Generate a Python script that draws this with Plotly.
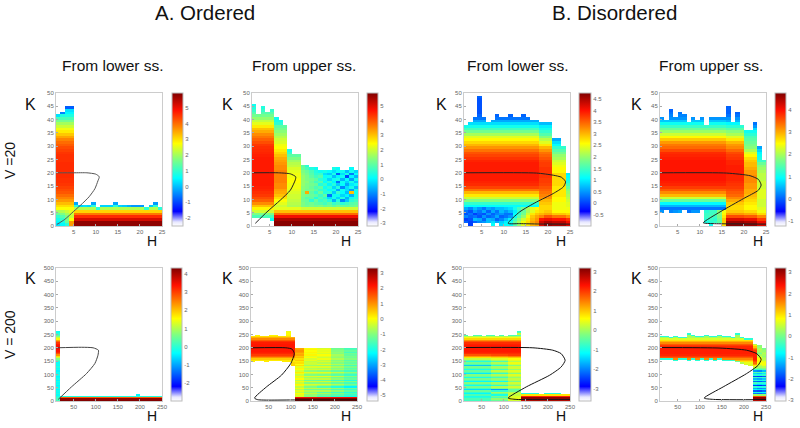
import plotly.graph_objects as go

W, H = 800, 428
COLORSCALE = [[0, '#ffffff'], [.03, '#e8e8ff'], [.06, '#9090ff'], [.11, '#0000ff'], [.36, '#00ffff'],
              [.5, '#80ff80'], [.62, '#ffff00'], [.75, '#ff8000'], [.87, '#ff1000'], [1, '#800000']]

h_edges_top = list(range(1, 26))
k_edges_top = list(range(0, 51))
h_edges_bot = list(range(10, 260, 10))
k_edges_bot = list(range(0, 505, 5))

# ---------- Panel A1: V=20, ordered, from lower ss.
a1_left = [2.0, 2.0, 2.0, 2.0, 2.0, 2.1, 2.7, 3.0, 3.3, 3.6, 3.8, 4.0, 4.2, 4.3, 4.4, 4.5, 4.55, 4.55, 4.6, 4.6, 4.6, 4.6, 4.6,
           4.6, 4.55, 4.55, 4.55, 4.5, 4.4, 4.3, 4.15, 4.0, 3.8, 3.5, 3.2, 2.9, 2.6, 2.3, 2.0, 1.6, 1.2, 0.8, 0.5, 0.3, 0.0]
a1_low = [[0.3, 0.5, 0.9, 3.6], [0.5, 0.8, 1.5, 3.6], [0.7, 1.0, 1.6, 2.7], [1.0, 1.3, 1.7, 2.3], [1.5, 1.7, 2.0, 2.3], [2.0, 2.1, 2.3, 2.5]]
a1_right = [5.8, 5.8, 5.2, 4.6, 3.9, 3.1, 2.1, 0.9, 0.2]
a1_tops = [42, 43, 45, 45, 9, 8, 8, 8, 9, 7, 8, 8, 8, 9, 8, 8, 8, 8, 8, 8, 7, 8, 9, 7]
a1_topv = [0.3, -0.5, -0.8, -0.8, -0.2, 0.2, 0.3, 0.2, -0.2, 0.9, 0.2, 0.2, 0.2, -0.2, 0.2, 0.1, -0.1, -0.3, -0.3, -0.3, 0.9, 0.1, -0.3, 0.9]
a1_ticks = [-2, -1, 0, 1, 2, 3, 4, 5]
a1_range = [-2.5, 5.93]
a1_curve_h = [1.2, 3, 5, 7, 8.5, 9.8, 10.5, 10.8, 10, 8, 5, 1]
a1_curve_k = [0.6, 2.5, 5.5, 8.5, 11, 14, 17, 18.5, 19.5, 20, 20, 20]

# ---------- Panel A2: V=20, ordered, from upper ss.
a2_left = [0.0, 0.0, 0.4, 0.8, 1.3, 2.0, 2.5, 3.0, 3.5, 3.9, 4.1, 4.3, 4.4, 4.5, 4.55, 4.6, 4.6, 4.6, 4.6, 4.6, 4.6, 4.6, 4.6,
           4.6, 4.6, 4.6, 4.55, 4.5, 4.45, 4.4, 4.3, 4.1, 3.9, 3.7, 3.5, 3.2, 3.0, 2.6, 2.2, 1.9, 1.5, 1.2, 0.9, 0.6, 0.4, 0.2]
a2_mid = [5.8, 5.8, 5.5, 4.8, 3.8, 3.0, 2.2, 2.0, 2.2, 2.4, 2.7, 3.0, 3.2, 3.3, 3.5, 3.5, 3.6, 3.6, 3.6, 3.6, 3.6, 3.5, 3.5, 3.4,
          3.3, 3.2, 3.0, 2.8, 2.6, 2.4, 2.3, 2.1, 2.0, 1.8, 1.6, 1.4, 1.2, 1.0, 0.5, 0.3, 0.2]
a2_next = [5.8, 5.8, 5.5, 4.8, 3.8, 3.0, 2.2, 1.7, 1.8, 1.9, 2.0, 2.0, 2.1, 2.2, 2.3, 2.3, 2.4, 2.4, 2.3, 2.3, 2.2, 2.1, 1.9, 1.8, 1.6, 1.3, 1.0, 0.6, 0.3]
a2_far_low = [5.8, 5.8, 5.5, 4.8, 3.8, 3.0, 2.0]
a2_noise = [
    [1.3, 1.2, 1.3, 1.2, 1.3, 1.1, 1.2, 1.0, 1.2, 1.1, 1.0, 1.1, 1.2],
    [1.3, 1.1, 1.2, 1.0, 0.9, 0.7, 1.0, 0.6, 0.8, 0.5, 0.7, 0.9, 1.0],
    [1.2, 1.1, 0.5, 1.1, 0.6, 0.8, 0.4, -0.6, 0.4, -1.0, -0.4, 0.5, 0.7],
    [1.2, 0.9, 1.0, 0.4, 0.9, 0.5, -0.2, 0.3, -0.3, 0.4, -0.6, 0.2, 0.4],
    [1.3, 1.2, 1.1, 1.0, 0.6, 1.0, -1.2, 0.2, 0.2, -0.3, 0.0, -0.6, 0.3],
    [1.3, 3.2, 1.0, 0.6, 1.1, 0.4, 0.5, -0.4, 0.6, 0.1, -0.5, 3.0, 0.2],
    [1.4, 1.2, 1.2, 1.0, 0.6, 0.5, 0.1, 0.3, -0.7, 0.2, -0.2, -0.8, 0.3],
    [1.4, 1.3, 1.1, 0.8, 1.0, 0.2, 0.5, -0.3, 0.4, -1.0, -0.2, 0.3, -0.5],
    [1.5, 1.3, 1.2, 1.1, 0.4, 0.6, 0.0, 0.4, -0.4, 0.1, -0.7, -0.1, 0.2],
    [1.5, 1.4, 1.1, 0.7, 0.9, 0.1, 0.5, 0.0, -1.2, 0.2, -0.3, 0.3, -0.4],
    [1.5, 1.3, 1.2, 1.0, 0.5, 0.3, -0.3, 0.2, 0.3, -0.6, 0.1, -0.8, 0.2],
    [1.5, 1.3, 1.0, 0.7, 0.9, 0.1, 0.2, -0.5, 0.0, 0.2, -1.6, 0.0, -0.6],
    [1.4, 1.2, 0.9, 0.5, 0.6, -0.2, -0.4, 0.3, -1.4, -0.2, 0.3, -1.1, 0.1],
    [1.3, 1.1, 0.8, 0.4, 0.2, 0.3, 0.1, -0.2, 0.1, 0.2, -0.5, 0.2, -0.3],
    [1.1, 0.8, 0.4, 0.2, 0.3, 0.1, 0.2, 0.3, 0.1, 0.0, 0.2, 0.1, 0.2],
    [1.0, 0.5, 0.3, 0.2, 0.2, 0.3, 0.2, 0.2, 0.2, 0.2, 0.1, 0.0, 0.0],
]
a2_tops = [46, 42, 45, 43, 44, 41, 40, 38, 29, 27, 27, 23, 26, 22, 22, 21, 21, 21, 22, 22, 21, 21, 22, 21]
a2_bots = [3, 3, 3, 3, 2, 0, 0, 0, 0, 0, 0, 0, 0, 0, 0, 0, 0, 0, 0, 0, 0, 0, 0, 0]
a2_ticks = [-3, -2, -1, 0, 1, 2, 3, 4, 5]
a2_range = [-3.2, 5.87]
a2_curve_h = [1.75, 4.4, 7.4, 9.7, 10.8, 10.9, 9.7, 7, 1]
a2_curve_k = [1, 5.3, 9.7, 13.5, 17.3, 18.5, 19.6, 20, 20]

# ---------- Panel B1: V=20, disordered, from lower ss.
b1_main = [-0.4, -0.3, -0.2, -0.1, 0.1, 0.4, 0.8, 1.1, 1.4, 1.9, 2.3, 2.7, 3.0, 3.4, 3.7, 3.85, 3.9, 3.95, 3.95, 3.95, 3.95, 3.95, 3.95, 3.95, 3.9,
           3.8, 3.7, 3.6, 3.4, 3.2, 3.0, 2.8, 2.6, 2.4, 2.1, 1.8, 1.5, 1.2, 0.9, 0.6, 0.3, 0.2, 0.1, 0.1, 0.1, 0.1, 0.1, 0.1, 0.2]
b1_r18 = [4.6, 4.5, 4.1, 3.6, 3.1, 2.9, 2.8, 2.8, 2.9, 3.0, 3.2, 3.3, 3.4, 3.5, 3.6, 3.7, 3.75, 3.75, 3.8, 3.8, 3.8, 3.8, 3.75, 3.75, 3.7, 3.6,
          3.5, 3.4, 3.2, 3.0, 2.7, 2.4, 2.2, 1.9, 1.6, 1.4, 1.2, 1.0, 0.7, 0.3]
b1_r21 = [4.5, 4.4, 4.0, 3.4, 2.9, 2.6, 2.5, 2.5, 2.5, 2.6, 2.6, 2.7, 2.7, 2.7, 2.7, 2.8, 2.8, 2.8, 2.8, 2.8, 2.6, 2.6, 2.5, 2.4, 2.3, 2.1, 2.0,
          1.8, 1.6, 1.4, 1.1, 0.9, 0.6]
b1_r24 = [4.2, 4.1, 3.8, 3.2, 2.8, 2.6, 2.5, 2.4, 2.4, 2.3, 2.2, 2.1, 2.0, 1.9, 1.7, 1.5, 1.3, 1.2, 1.1, 1.0]
b1_low = [
    [None, 0.0, None, None, None, None, 1.1, None, 0.9, 1.1, 1.1, 1.6, 2.0, 2.4, 2.7, 3.0, 3.1, 4.2],
    [0.2, 0.0, 0.2, 0.4, 0.5, 0.7, 0.9, 0.6, 0.8, 1.0, 1.2, 1.7, 2.1, 2.5, 2.8, 3.1, 3.3, 4.3],
    [0.0, 0.1, 0.7, 0.6, 0.2, 0.7, 0.6, 0.2, 0.4, 0.7, 1.0, 1.5, 1.9, 2.3, 2.7, 3.0, 3.2, 4.0],
    [0.4, 0.2, 0.3, 0.1, 0.5, 0.2, 0.3, 0.6, 0.2, 0.3, 0.5, 1.1, 1.6, 2.0, 2.5, 2.9, 3.1, 3.3],
    [0.1, 0.3, 0.0, 0.2, 0.1, 0.5, 0.2, 0.4, 0.5, 0.3, 0.3, 1.1, 1.4, 1.8, 2.3, 2.7, 2.9, 3.0],
    [0.3, 0.1, 0.5, 0.3, 0.6, 0.2, 0.6, 0.3, 0.7, 0.5, 0.7, 1.0, 1.4, 1.7, 2.1, 2.4, 2.7, 2.8],
    [0.6, 0.4, 0.7, 0.5, 0.3, 0.6, 0.5, 0.7, 0.7, 0.8, 0.9, 1.2, 1.5, 1.8, 2.1, 2.4, 2.6, 2.8],
]
b1_tops = [38, 39, 41, 49, 41, 39, 40, 42, 41, 41, 42, 41, 41, 42, 41, 40, 40, 39, 39, 39, 33, 33, 30, 20]
b1_ticks = [-0.5, 0, 0.5, 1, 1.5, 2, 2.5, 3, 3.5, 4, 4.5]
b1_ticktext = ['-0.5', '0', '0.5', '1', '1.5', '2', '2.5', '3', '3.5', '4', '4.5']
b1_range = [-0.99, 4.76]
b1_curve_h = [25, 18, 13.6, 11, 13.6, 17.4, 21.2, 23.5, 24, 23.1, 21.2, 17.4, 1]
b1_curve_k = [0.7, 0.75, 0.9, 1, 5.3, 9, 12.2, 14.7, 16.6, 18.3, 19.1, 19.9, 20]

# ---------- Panel B2: V=20, disordered, from upper ss.
b2_main = [0, 0, 0, 0, 0, 0.2, 0.1, 0.5, 0.9, 1.6, 2.2, 2.9, 3.2, 3.5, 3.7, 3.85, 3.9, 3.95, 3.95, 3.95, 3.95, 3.95, 3.95, 3.95, 3.95, 3.9, 3.85,
           3.8, 3.6, 3.4, 3.3, 3.1, 2.8, 2.5, 2.2, 1.9, 1.6, 1.3, 1.0, 0.6, 0.3, 0.2, 0.1, 0.0, 0.0]
b2_r16 = [4.7, 4.6, 4.2, 3.6, 3.1, 2.8, 2.7, 2.7, 2.8, 3.0, 3.2, 3.4, 3.5, 3.6, 3.7, 3.75, 3.8, 3.85, 3.85, 3.9, 3.9, 3.9, 3.9, 3.85, 3.85, 3.75, 3.7,
          3.6, 3.4, 3.2, 3.1, 2.9, 2.6, 2.3, 2.0, 1.8, 1.5, 1.2, 0.9, 0.5, 0.3, 0.1, 0.0, 0.0, 0.0]
b2_r20 = [4.6, 4.5, 4.1, 3.5, 3.0, 2.7, 2.5, 2.5, 2.6, 2.7, 2.8, 2.9, 3.0, 3.0, 3.1, 3.1, 3.2, 3.2, 3.2, 3.1, 3.1, 3.0, 2.9, 2.9, 2.8, 2.7, 2.5,
          2.3, 2.0, 1.8, 1.7, 1.6, 1.5, 1.4, 1.2, 1.0, 0.7, 0.3, 0.1]
b2_r23 = [4.2, 4.1, 3.7, 3.2, 2.7, 2.4, 2.3, 2.2, 2.2, 2.2, 2.3, 2.3, 2.3, 2.3, 2.2, 2.2, 2.2, 2.1, 2.1, 2.1, 2.0, 1.9, 1.8, 1.6, 1.3, 1.1, 1.0, 0.9, 0.7, 0.4]
b2_low = [[None, None, None, None, None, None, None, None, None, None, None, 1.0, None, None, 2.7],
          [None, None, None, None, None, None, None, None, None, None, 1.1, 1.2, 1.3, 1.5, 2.8],
          [None, None, None, None, None, None, None, None, None, None, 1.2, 1.3, 1.2, 1.6, 2.8],
          [None, None, None, None, None, None, None, None, None, None, 1.3, 1.4, 1.3, 1.7, 2.6],
          [None, None, None, None, None, None, None, None, None, None, 1.3, 1.3, 1.4, 1.8, 2.5],
          [0.3, None, 0.2, 0.3, 0.4, None, 0.1, 0.3, 0.3, None, 1.2, 1.3, 1.3, 1.8, 2.4]]
b2_tops = [41, 40, 44, 41, 43, 42, 39, 41, 40, 41, 38, 41, 41, 41, 41, 45, 39, 43, 38, 36, 36, 39, 30, 25]
b2_ticks = [-1, 0, 1, 2, 3, 4]
b2_range = [-1.23, 4.75]
b2_curve_h = [25, 17, 13, 10.8, 14.6, 19.9, 23.3, 23.9, 23.3, 21.4, 16.1, 1]
b2_curve_k = [0.7, 0.8, 0.9, 1.2, 5.3, 10.3, 13.5, 15.4, 17.5, 18.9, 19.9, 20]

# ---------- Panel A3: V=200, ordered, from lower ss.
a3_col0 = [0.2, 0.2, 0.1, -0.1, -0.3, -0.1, -0.3, -0.2, -0.4, -0.1, -0.3, -0.4, -0.2, -0.3, -0.1, -0.4, -0.2, -0.3, -0.4, -0.1, -0.3, -0.2,
           -0.4, -0.2, -0.3, -0.1, -0.3, -0.2, -0.3, -0.1, 0.3, 0.7, 1.2, 1.8, 2.4, 2.9, 3.2, 3.35, 3.4, 3.4, 3.4, 3.35, 3.3, 3.1, 2.7, 2.2, 1.6, 1.1,
           0.7, 0.3, 0.0, -0.2, -0.3]
a3_rest = [4.3, 4.2, 2.8, -0.1, -0.4]
a3_tops = [265, 20, 20, 20, 20, 20, 20, 20, 20, 20, 20, 20, 20, 20, 20, 20, 20, 20, 25, 20, 20, 20, 20, 20]
a3_ticks = [-2, -1, 0, 1, 2, 3, 4]
a3_range = [-2.98, 4.33]
a3_curve_h = [15, 45, 79, 98, 105, 106, 94, 68, 10]
a3_curve_k = [6, 53, 103, 141, 172, 191, 200, 202, 200]

# ---------- Panel A4: V=200, ordered, from upper ss.
a4_left = [0.4, 0.4, 0.4, 0.2, 0.2, 0.5, 1.0, 1.5, 1.8, 2.0, 2.1, 2.15, 2.15, 2.15, 2.15, 2.15, 2.15, 2.1, 1.9, 1.5, 1.1, 0.7, 0.3, 0.1, 0.0, 0.0, -0.1]
a4_tops = [245, 250, 245, 245, 250, 250, 245, 245, 265, 240]
a4_bots = [145, 150, 150, 145, 150, 150, 150, 145, 145, 130]
a4_g1 = [3.2, 3.2, 2.3, -0.4, -0.2, 0.0, -0.5, -0.2, -0.6, -0.1, -0.5, -0.1, 0.1, -0.4, -0.1, -0.6, 0.0, -0.3, 0.1, -0.4, -0.1, 0.2, -0.3, 0.0, 0.1, -0.2,
         0.3, 0.0, 0.3, 0.2, 0.5, 0.3, 0.6, 0.5, 0.8, 0.7, 0.9, 1.0, 0.9, 0.8]
a4_g2 = [3.2, 3.2, 2.3, -1.1, -0.9, -0.5, -1.0, -0.6, -1.2, -0.5, -1.1, -0.6, -0.3, -1.0, -0.4, -1.2, -0.5, -0.8, -0.3, -1.0, -0.6, -0.2, -0.9, -0.4, -0.6, -0.3,
         -0.8, -0.4, -0.4, -0.5, -0.2, -0.3, 0.0, -0.2, 0.1, -0.1, 0.1, 0.0, 0.1, 0.0]
a4_g3 = [3.2, 3.2, 2.3, -1.6, -1.2, -0.7, -1.4, -0.6, -1.2, -0.5, -1.5, -0.8, -0.3, -1.0, -0.4, -1.3, -0.5, -0.9, -0.2, -1.1, -0.6, -0.2, -1.0, -0.4, -0.7, -0.3,
         -0.9, -0.2, -0.6, -0.3, -0.5, -0.1, -0.4, -0.2, 0.0, -0.3, -0.1, -0.2, -0.1, -0.3]
a4_g4 = [3.2, 3.2, 2.3, -1.9, -1.4, -1.0, -1.7, -0.9, -1.5, -0.8, -1.9, -1.1, -0.6, -1.3, -0.7, -1.6, -0.9, -1.2, -0.5, -1.4, -1.0, -0.5, -1.3, -0.8, -1.0, -0.7,
         -1.2, -0.6, -1.0, -0.8, -1.0, -0.6, -0.9, -0.8, -0.7, -1.0, -0.9, -1.0, -1.1, -1.2]
a4_g5 = [3.2, 3.2, 2.3, -2.1, -1.7, -1.4, -1.9, -1.3, -1.7, -1.2, -2.3, -1.5, -1.1, -1.6, -1.0, -1.9, -1.3, -1.5, -1.0, -1.7, -1.3, -0.9, -1.6, -1.2, -1.4, -1.1,
         -1.6, -1.0, -1.3, -1.1, -1.4, -1.0, -1.2, -1.1, -1.3, -1.2, -1.6, -1.3, -1.5, -1.6]
a4_ticks = [-5, -4, -3, -2, -1, 0, 1, 2, 3]
a4_range = [-5.37, 3.33]
a4_curve_h = [250, 112, 25, 18, 45, 79, 100, 108, 103, 89, 10]
a4_curve_k = [4, 4, 5, 11, 53, 97, 141, 178, 195, 200, 200]

# ---------- Panel B3: V=200, disordered, from lower ss.
b3_g1 = [-0.7, -0.6, -0.9, -1.0, -0.6, -1.2, -0.8, -0.4, -1.4, -0.7, -0.3, -1.1, -0.6, -0.2, -1.2, -0.6, -0.3, -1.0, -0.4, -0.2, -1.3, -0.7, -0.4, -1.0, -0.5,
         -0.3, -1.5, -0.6, -0.3, -0.9, -0.4, 0.2, 0.8, 1.3, 1.8, 2.1, 2.2, 2.25, 2.25, 2.25, 2.25, 2.25, 2.2, 2.1, 1.8, 1.4, 0.9, 0.5, 0.1, -0.6]
b3_g2 = [-0.4, -0.1, -0.6, -0.3, -1.0, -0.3, 0.0, -0.8, -1.8, -0.3, 0.1, -0.9, -0.2, 0.0, -1.1, -0.3, -0.1, -0.7, -0.2, 0.1, -0.8, -0.2, 0.2, -0.7, -0.1,
         0.0, -0.9, -0.2, 0.1, -0.6, 0.0, 0.4, 0.9, 1.4, 1.9, 2.1, 2.2, 2.25, 2.25, 2.25, 2.25, 2.25, 2.2, 2.1, 1.8, 1.4, 0.9, 0.5, 0.1, -0.6]
b3_g3 = [0.3, 0.5, 0.4, 0.4, 0.2, 0.3, 0.1, -0.4, -0.5, 0.0, 0.3, -0.2, 0.1, 0.3, -0.3, 0.1, 0.2, -0.1, 0.2, 0.4, -0.2, 0.2, 0.4, -0.1, 0.3,
         0.3, -0.2, 0.3, 0.5, 0.1, 0.4, 0.6, 1.0, 1.5, 2.0, 2.1, 2.2, 2.25, 2.25, 2.25, 2.25, 2.25, 2.2, 2.1, 1.8, 1.4, 0.9, 0.5, 0.1, -0.6]
b3_right = [2.6, 3.1, 3.1, 2.2, 0.8, -0.9]
b3_tops = [250, 245, 250, 250, 245, 250, 250, 245, 250, 245, 250, 250, 265, 30, 30, 30, 30, 25, 30, 30, 30, 30, 25, 25]
b3_ticks = [-3, -2, -1, 0, 1, 2, 3]
b3_range = [-3.63, 3.2]
b3_curve_h = [250, 128, 110, 151, 204, 230, 239, 230, 211, 166, 10]
b3_curve_k = [5, 6, 11, 53, 97, 128, 153, 178, 191, 200, 201]

# ---------- Panel B4: V=200, disordered, from upper ss.
b4_band = [0.6, 0.6, 0.7, 1.0, 1.3, 1.6, 1.9, 2.1, 2.25, 2.3, 2.3, 2.3, 2.3, 2.3, 2.25, 2.1, 1.9, 1.6, 1.3, 1.0, 0.6, 0.3, 0.3, 0.3, 0.3, 0.3, 0.3, 0.3]
b4_tops = [245, 245, 240, 245, 240, 240, 255, 250, 245, 245, 250, 245, 245, 250, 245, 245, 240, 255, 240, 235, 235, 215, 210, 200]
b4_bots = [155, 155, 155, 150, 155, 155, 150, 155, 150, 155, 150, 155, 150, 155, 150, 150, 150, 145, 140, 135, 130, 0, 0, 0]
b4_edge = [-0.5, -0.5, -0.5, -0.5, -0.5, -0.5, -0.5, -0.5, -0.5, -0.5, -0.5, -0.5, -0.5, -0.5, -0.5, -0.5, -0.4, 0.0, 0.4, 0.6, 0.6]
b4_r21 = [2.6, 3.1, 3.1, 2.0, 0.3, -1.6, -0.6, -1.8, -0.8, -1.3, -0.4, -2.0, -0.9, -0.3, -1.7, -0.5, -1.2, -0.3, -1.9, -0.5, -1.0, -0.2, -1.4, -0.4, 0.2,
          0.6, 1.0, 1.5, 1.8, 2.0, 2.2, 2.3, 2.3, 2.3, 2.3, 2.3, 2.2, 2.1, 1.9, 1.6, 1.2, 0.9, 0.4]
b4_r22 = [2.6, 3.1, 3.1, 2.0, 0.2, -1.7, -0.7, -1.9, -0.9, -1.5, -0.6, -2.1, -1.0, -0.5, -1.8, -0.7, -1.3, -0.5, -2.0, -0.6, -1.1, -0.3, -1.5, -0.4, 0.0,
          0.3, 0.5, 0.7, 0.8, 0.9, 0.9, 0.8, 0.7, 0.5, 0.3, 0.0, 0.2, 0.3, 0.4, 0.3, 0.2, 0.1]
b4_r23 = [2.6, 3.1, 3.1, 2.0, 0.2, -1.5, -0.8, -1.7, -0.9, -1.4, -0.5, -1.9, -0.9, -0.5, -1.6, -0.6, -1.1, -0.4, -1.8, -0.4, -0.9, -0.2, -1.2, -0.2, 0.1,
          0.4, 0.7, 0.8, 0.8, 0.7, 0.5, 0.4, 0.3, 0.2, 0.3, 0.4, 0.3, 0.2, 0.1, 0.0]
b4_ticks = [-3, -2, -1, 0, 1, 2, 3]
b4_range = [-3.03, 3.2]
b4_curve_h = [250, 131, 110, 153, 206, 232, 239, 229, 206, 146, 10]
b4_curve_k = [5, 6, 11, 53, 103, 134, 157, 178, 191, 199, 201]


# ---------- assembly of the read values into grids
def blank(rows):
    return [[None] * 24 for _ in range(rows)]


def put(z, cols, profile):
    for c in cols:
        for k, v in enumerate(profile):
            z[k][c] = v


def put_band(z, c, profile, start):
    for k, v in enumerate(profile):
        z[start + k][c] = v


def block(z, c0, r0, rows):
    for r, row in enumerate(rows):
        for c, v in enumerate(row):
            z[r0 + r][c0 + c] = v


def clip(z, tops, bots=None, step=1):
    for c, t in enumerate(tops):
        b = bots[c] if bots else 0
        for k in range(len(z)):
            if k * step >= t or k * step < b:
                z[k][c] = None


# A1
z_a1 = blank(50)
put(z_a1, range(0, 4), a1_left)
put(z_a1, range(4, 24), a1_right)
block(z_a1, 0, 0, a1_low)
clip(z_a1, a1_tops)
for c, (t, v) in enumerate(zip(a1_tops, a1_topv)):
    z_a1[t - 1][c] = v

# A2
z_a2 = blank(50)
put(z_a2, range(0, 5), a2_left)
put(z_a2, range(5, 8), a2_mid)
put(z_a2, range(8, 11), a2_next)
put(z_a2, range(11, 24), a2_far_low)
block(z_a2, 11, 7, a2_noise)
z_a2[2][4] = 0.2
clip(z_a2, a2_tops, a2_bots)

# B1
z_b1 = blank(50)
put(z_b1, range(0, 17), b1_main)
put(z_b1, range(17, 20), b1_r18)
put(z_b1, range(20, 23), b1_r21)
put(z_b1, range(23, 24), b1_r24)
block(z_b1, 0, 0, b1_low)
clip(z_b1, b1_tops)

# B2
z_b2 = blank(50)
put(z_b2, range(0, 15), b2_main)
put(z_b2, range(15, 19), b2_r16)
put(z_b2, range(19, 22), b2_r20)
put(z_b2, range(22, 24), b2_r23)
block(z_b2, 0, 0, b2_low)
clip(z_b2, b2_tops)
for c in range(0, 10):
    z_b2[4][c] = None

# A3
z_a3 = blank(100)
put(z_a3, range(0, 1), a3_col0)
put(z_a3, range(1, 24), a3_rest)
clip(z_a3, a3_tops, None, 5)

# A4
z_a4 = blank(100)
for c in range(0, 10):
    put_band(z_a4, c, a4_left, 26)
put(z_a4, range(10, 12), a4_g1)
put(z_a4, range(12, 15), a4_g2)
put(z_a4, range(15, 18), a4_g3)
put(z_a4, range(18, 21), a4_g4)
put(z_a4, range(21, 24), a4_g5)
clip(z_a4, a4_tops + [200] * 14, a4_bots + [0] * 14, 5)

# B3
z_b3 = blank(100)
put(z_b3, range(0, 6), b3_g1)
put(z_b3, range(6, 10), b3_g2)
put(z_b3, range(10, 13), b3_g3)
put(z_b3, range(13, 24), b3_right)
z_b3[50] = [0.2] * 13 + [None] * 11
z_b3[51] = [-0.6] * 13 + [None] * 11
z_b3[52] = [-0.8] * 13 + [None] * 11
clip(z_b3, b3_tops, None, 5)

# B4
z_b4 = blank(100)
for c in range(0, 21):
    put_band(z_b4, c, b4_band, 26)
put(z_b4, [21], b4_r21)
put(z_b4, [22], b4_r22)
put(z_b4, [23], b4_r23)
clip(z_b4, b4_tops, b4_bots, 5)
for c in range(0, 21):
    z_b4[b4_bots[c] // 5][c] = b4_edge[c]
    z_b4[b4_tops[c] // 5 - 1][c] = -0.5

PANELS = [
    dict(z=z_a1, rng=a1_range, ticks=a1_ticks, tt=None, cx=a1_curve_h, cy=a1_curve_k, box=(56, 93), cb=172, cw=11, top=True, lc='#555555'),
    dict(z=z_a2, rng=a2_range, ticks=a2_ticks, tt=None, cx=a2_curve_h, cy=a2_curve_k, box=(252, 93), cb=367, cw=11, top=True, lc='#222222'),
    dict(z=z_b1, rng=b1_range, ticks=b1_ticks, tt=b1_ticktext, cx=b1_curve_h, cy=b1_curve_k, box=(464, 93), cb=579, cw=12, top=True, lc='#222222'),
    dict(z=z_b2, rng=b2_range, ticks=b2_ticks, tt=None, cx=b2_curve_h, cy=b2_curve_k, box=(660, 93), cb=775, cw=11, top=True, lc='#222222'),
    dict(z=z_a3, rng=a3_range, ticks=a3_ticks, tt=None, cx=a3_curve_h, cy=a3_curve_k, box=(56, 268), cb=171, cw=11, top=False, lc='#444444'),
    dict(z=z_a4, rng=a4_range, ticks=a4_ticks, tt=None, cx=a4_curve_h, cy=a4_curve_k, box=(251, 268), cb=367, cw=11, top=False, lc='#111111'),
    dict(z=z_b3, rng=b3_range, ticks=b3_ticks, tt=None, cx=b3_curve_h, cy=b3_curve_k, box=(464, 268), cb=579, cw=12, top=False, lc='#111111'),
    dict(z=z_b4, rng=b4_range, ticks=b4_ticks, tt=None, cx=b4_curve_h, cy=b4_curve_k, box=(660, 268), cb=775, cw=11, top=False, lc='#111111'),
]

fig = go.Figure()
layout = dict(width=W, height=H, margin=dict(l=0, r=0, t=0, b=0, autoexpand=False),
              paper_bgcolor='white', plot_bgcolor='white', showlegend=False,
              font=dict(family='Liberation Sans', color='#111111'))
GREY = '#666666'
BW, BH = 106, 133
for i, p in enumerate(PANELS):
    n = i + 1
    x0, y0 = p['box']
    xa = 'x' if n == 1 else f'x{n}'
    ya = 'y' if n == 1 else f'y{n}'
    fig.add_trace(go.Heatmap(
        x=h_edges_top if p['top'] else h_edges_bot,
        y=k_edges_top if p['top'] else k_edges_bot,
        z=p['z'], xaxis=xa, yaxis=ya, colorscale=COLORSCALE, zmin=p['rng'][0], zmax=p['rng'][1],
        hoverongaps=False,
        colorbar=dict(x=p['cb'] / W, xanchor='left', y=1 - y0 / H, yanchor='top', len=BH, lenmode='pixels',
                      thickness=p['cw'], thicknessmode='pixels', tickvals=p['ticks'],
                      ticktext=p['tt'] if p['tt'] else [str(t) for t in p['ticks']],
                      ticks='', tickfont=dict(size=6, color=GREY), outlinewidth=1, outlinecolor='#bbbbbb',
                      ypad=0, xpad=0, borderwidth=0)))
    fig.add_trace(go.Scatter(x=p['cx'], y=p['cy'], xaxis=xa, yaxis=ya, mode='lines',
                             line=dict(color=p['lc'], width=1, shape='spline', smoothing=0.6), hoverinfo='skip'))
    common = dict(showgrid=False, zeroline=False, showline=True, mirror=True, linecolor='#cccccc', linewidth=1,
                  ticks='inside', ticklen=2, tickcolor='#aaaaaa', tickfont=dict(size=6, color=GREY), layer='above traces')
    layout['xaxis' if n == 1 else f'xaxis{n}'] = dict(
        domain=[x0 / W, (x0 + BW) / W], anchor=ya,
        range=[1, 25] if p['top'] else [10, 250],
        tickvals=[5, 10, 15, 20, 25] if p['top'] else [50, 100, 150, 200, 250], **common)
    layout['yaxis' if n == 1 else f'yaxis{n}'] = dict(
        domain=[1 - (y0 + BH) / H, 1 - y0 / H], anchor=xa,
        range=[0, 50] if p['top'] else [0, 500],
        tickvals=list(range(0, 55, 5)) if p['top'] else list(range(0, 550, 50)), **common)
fig.update_layout(**layout)


def label(text, x, y, size, angle=0):
    fig.add_annotation(text=text, x=x / W, y=1 - y / H, xref='paper', yref='paper', showarrow=False,
                       font=dict(size=size, family='Liberation Sans', color='#111111'), textangle=angle,
                       xanchor='center', yanchor='middle')


label('A. Ordered', 205, 12, 20.5)
label('B. Disordered', 614, 12, 20.5)
for x, t in [(113, 'From lower ss.'), (304, 'From upper ss.'), (518, 'From lower ss.'), (711, 'From upper ss.')]:
    label(t, x, 66, 15.5)
for x in [30, 228, 441, 636]:
    label('K', x, 104, 16)
    label('K', x, 278, 16)
for x in [152, 346, 561, 758]:
    label('H', x, 241, 14)
    label('H', x, 416, 14)
label('V =20', 10, 161, 14, -90)
label('V = 200', 10, 335, 14, -90)

fig.write_html("out.html", config={'displayModeBar': False},
               post_script="document.body.style.margin='0';window.dispatchEvent(new Event('resize'));")
